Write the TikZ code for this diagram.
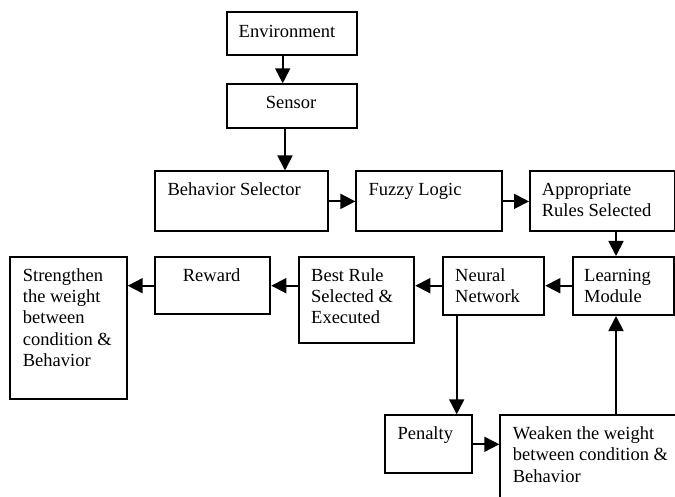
\documentclass[tikz,border=0pt]{standalone}
\usepackage{fontspec}
\setmainfont{Liberation Serif}
\usetikzlibrary{arrows.meta}
\begin{document}
\begin{tikzpicture}[x=1pt,y=-1pt,
  box/.style={draw, line width=2pt, inner sep=0pt, anchor=north west},
  lbl/.style={inner sep=0pt, anchor=north west, align=left, font=\fontsize{18.5}{21.3}\selectfont},
  conn/.style={line width=1.8pt, -{Triangle[length=15pt,width=15pt]}}]
\useasboundingbox (0,0) rectangle (675,497);
% boxes
\node[box, minimum width=130pt, minimum height=43pt] (env) at (225.5,11) {};
\node[box, minimum width=129.5pt, minimum height=44pt] (sensor) at (226,83.3) {};
\node[box, minimum width=173.7pt, minimum height=59.8pt] (bsel) at (153.7,170.5) {};
\node[box, minimum width=145.3pt, minimum height=59.8pt] (fuzzy) at (355.4,170.5) {};
\node[box, minimum width=144.5pt, minimum height=59.8pt] (approp) at (529,170.5) {};
\node[box, minimum width=101.3pt, minimum height=58pt] (learn) at (571.7,256) {};
\node[box, minimum width=101pt, minimum height=58pt] (neural) at (442.3,256) {};
\node[box, minimum width=115.6pt, minimum height=85.7pt] (best) at (297.7,256) {};
\node[box, minimum width=115.3pt, minimum height=57.3pt] (reward) at (154,256) {};
\node[box, minimum width=116.4pt, minimum height=142.3pt] (strength) at (9.3,256) {};
\node[box, minimum width=86.7pt, minimum height=58pt] (penalty) at (384.3,414.3) {};
\node[box, minimum width=200pt, minimum height=110pt] (weaken) at (499.3,414.3) {};
% texts
\node[lbl] (tenv) at ([shift={(13,11)}]env.north west) {\strut Environment};
\node[lbl] (tsensor) at ([shift={(39.7,10)}]sensor.north west) {\strut Sensor};
\node[lbl] (tbsel) at ([shift={(13.7,10)}]bsel.north west) {\strut Behavior Selector};
\node[lbl] (tfuzzy) at ([shift={(13,10)}]fuzzy.north west) {\strut Fuzzy Logic};
\node[lbl] (tapprop) at ([shift={(12.7,10)}]approp.north west) {\strut Appropriate\\Rules Selected};
\node[lbl] (tlearn) at ([shift={(12.3,10)}]learn.north west) {\strut Learning\\Module};
\node[lbl] (tneural) at ([shift={(12.7,10)}]neural.north west) {\strut Neural\\Network};
\node[lbl] (tbest) at ([shift={(13.3,10)}]best.north west) {\strut Best Rule\\Selected \&\\Executed};
\node[lbl] (treward) at ([shift={(28.7,10)}]reward.north west) {\strut Reward};
\node[lbl] (tstrength) at ([shift={(13.4,10)}]strength.north west) {\strut Strengthen\\the weight\\between\\condition \&\\Behavior};
\node[lbl] (tpenalty) at ([shift={(13,10)}]penalty.north west) {\strut Penalty};
\node[lbl] (tweaken) at ([shift={(13.4,10)}]weaken.north west) {\strut Weaken the weight\\between condition \&\\Behavior};
% connector guides
\coordinate (xa) at (282.7,0);
\coordinate (xb) at (285,0);
\coordinate (xc) at (616,0);
\coordinate (xd) at (456.7,0);
\coordinate (yr) at (0,285.7);
% connectors
\draw[conn] (env.south -| xa) -- (sensor.north -| xa);
\draw[conn] (sensor.south -| xb) -- (bsel.north -| xb);
\draw[conn] (bsel.east) -- (fuzzy.west);
\draw[conn] (fuzzy.east) -- (approp.west);
\draw[conn] (approp.south -| xc) -- (learn.north -| xc);
\draw[conn] (learn.west |- yr) -- (neural.east |- yr);
\draw[conn] (neural.west |- yr) -- (best.east |- yr);
\draw[conn] (best.west |- yr) -- (reward.east |- yr);
\draw[conn] (reward.west |- yr) -- (strength.east |- yr);
\draw[conn] (neural.south -| xd) -- (penalty.north -| xd);
\draw[conn] (penalty.east) -- (weaken.west |- penalty.east);
\draw[conn] (weaken.north -| xc) -- (learn.south -| xc);
\end{tikzpicture}
\end{document}
